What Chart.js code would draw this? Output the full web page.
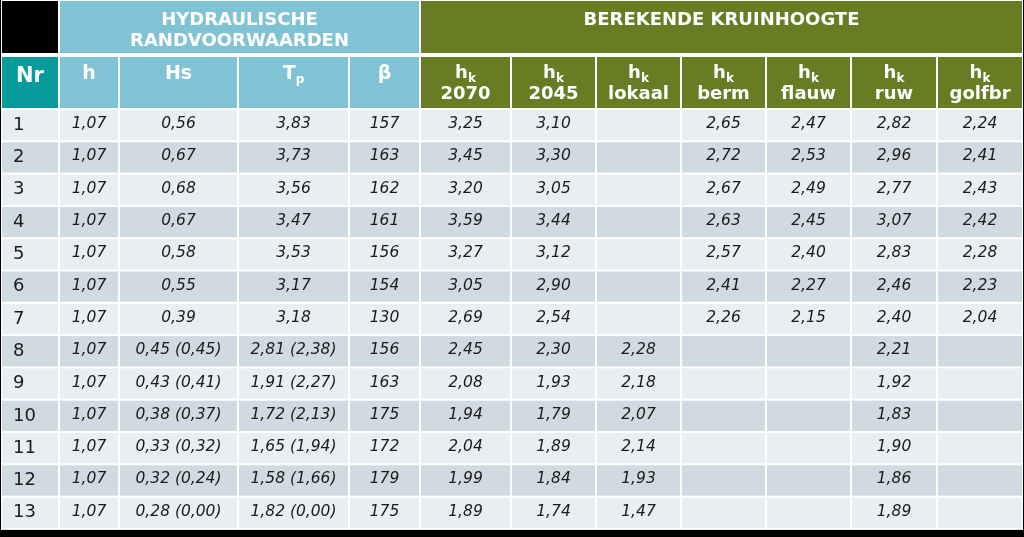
<!DOCTYPE html>
<html>
<head>
<meta charset="utf-8">
<script src="https://cdn.jsdelivr.net/npm/chart.js@4.4.0/dist/chart.umd.min.js"></script>
<style>
    html, body { margin: 0; padding: 0; background: #000; }
    #wrap { width: 1024px; height: 537px; position: relative; }
</style>
</head>
<body>
<div id="wrap"><canvas id="tbl"></canvas></div>
<script>
// ---- data ----
const rowNr = ['1', '2', '3', '4', '5', '6', '7', '8', '9', '10', '11', '12', '13'];
const hVals = [1.07, 1.07, 1.07, 1.07, 1.07, 1.07, 1.07, 1.07, 1.07, 1.07, 1.07, 1.07, 1.07];
const hsVals = [0.56, 0.67, 0.68, 0.67, 0.58, 0.55, 0.39, 0.45, 0.43, 0.38, 0.33, 0.32, 0.28];
const hsAlt = [null, null, null, null, null, null, null, 0.45, 0.41, 0.37, 0.32, 0.24, 0.00];
const tpVals = [3.83, 3.73, 3.56, 3.47, 3.53, 3.17, 3.18, 2.81, 1.91, 1.72, 1.65, 1.58, 1.82];
const tpAlt = [null, null, null, null, null, null, null, 2.38, 2.27, 2.13, 1.94, 1.66, 0.00];
const betaVals = [157, 163, 162, 161, 156, 154, 130, 156, 163, 175, 172, 179, 175];
const hk2070 = [3.25, 3.45, 3.20, 3.59, 3.27, 3.05, 2.69, 2.45, 2.08, 1.94, 2.04, 1.99, 1.89];
const hk2045 = [3.10, 3.30, 3.05, 3.44, 3.12, 2.90, 2.54, 2.30, 1.93, 1.79, 1.89, 1.84, 1.74];
const hkLokaal = [null, null, null, null, null, null, null, 2.28, 2.18, 2.07, 2.14, 1.93, 1.47];
const hkBerm = [2.65, 2.72, 2.67, 2.63, 2.57, 2.41, 2.26, null, null, null, null, null, null];
const hkFlauw = [2.47, 2.53, 2.49, 2.45, 2.40, 2.27, 2.15, null, null, null, null, null, null];
const hkRuw = [2.82, 2.96, 2.77, 3.07, 2.83, 2.46, 2.40, 2.21, 1.92, 1.83, 1.90, 1.86, 1.89];
const hkGolfbr = [2.24, 2.41, 2.43, 2.42, 2.28, 2.23, 2.04, null, null, null, null, null, null];

const groupTitles = [['HYDRAULISCHE', 'RANDVOORWAARDEN'], ['BEREKENDE KRUINHOOGTE']];
const hydroHeads = [['h', ''], ['Hs', ''], ['T', 'p'], ['β', '']];
const kruinHeads = ['2070', '2045', 'lokaal', 'berm', 'flauw', 'ruw', 'golfbr'];

// ---- layout (scale units) ----
const colWidths = [58, 60, 119, 111, 71, 91, 85, 85, 85, 85, 86, 86];
const headRows = [55, 54];
const dataRowH = 32.3;

const FONT = "'DejaVu Sans', Verdana, sans-serif";
const C_BLUE = '#80c3d4';
const C_TEAL = '#079b9c';
const C_GREEN = '#687c24';
const C_ROW = ['#e8eef1', '#d0dbe1'];
const C_TEXT = '#1b1b1b';

const fmt = v => (v === null || v === undefined) ? '' : v.toFixed(2).replace('.', ',');
const withAlt = (v, a) => a === null ? fmt(v) : `${fmt(v)} (${fmt(a)})`;

const dataCols = [
    i => withAlt(hVals[i], null),
    i => withAlt(hsVals[i], hsAlt[i]),
    i => withAlt(tpVals[i], tpAlt[i]),
    i => String(betaVals[i]),
    i => fmt(hk2070[i]),
    i => fmt(hk2045[i]),
    i => fmt(hkLokaal[i]),
    i => fmt(hkBerm[i]),
    i => fmt(hkFlauw[i]),
    i => fmt(hkRuw[i]),
    i => fmt(hkGolfbr[i]),
];

// cumulative edges
const colEdges = [0];
colWidths.forEach(w => colEdges.push(colEdges[colEdges.length - 1] + w));
const rowEdges = [0, headRows[0], headRows[0] + headRows[1]];
rowNr.forEach(() => rowEdges.push(rowEdges[rowEdges.length - 1] + dataRowH));

// one invisible point per data cell, placed on the scales
const cellPoints = [];
rowNr.forEach((r, i) => {
    colWidths.forEach((w, c) => {
        cellPoints.push({ x: (colEdges[c] + colEdges[c + 1]) / 2, y: (rowEdges[i + 2] + rowEdges[i + 3]) / 2 });
    });
});

// text with a subscript, centered on cx
function drawSub(ctx, main, sub, cx, base, size, subSize) {
    ctx.font = `bold ${size}px ${FONT}`;
    const w1 = ctx.measureText(main).width;
    ctx.font = `bold ${subSize}px ${FONT}`;
    const w2 = sub ? ctx.measureText(sub).width : 0;
    const left = cx - (w1 + w2) / 2;
    ctx.textAlign = 'left';
    ctx.font = `bold ${size}px ${FONT}`;
    ctx.fillText(main, left, base);
    if (sub) {
        ctx.font = `bold ${subSize}px ${FONT}`;
        ctx.fillText(sub, left + w1, base + 4);
    }
}

const tablePlugin = {
    id: 'tableCells',
    beforeDatasetsDraw(chart) {
        const { ctx, scales: { x, y } } = chart;
        const px = v => x.getPixelForValue(v);
        const py = v => y.getPixelForValue(v);
        const last = colEdges.length - 1;

        ctx.save();
        // white grid under cells
        ctx.fillStyle = '#fff';
        ctx.fillRect(px(0), py(0), px(colEdges[last]) - px(0), py(rowEdges[rowEdges.length - 1]) + 1 - py(0));

        const cell = (c0, c1, r, color) => {
            const top = py(rowEdges[r]) + (r === 1 ? 2 : 1);
            const bot = py(rowEdges[r + 1]) - (r === 0 ? 2 : 1);
            ctx.fillStyle = color;
            ctx.fillRect(px(colEdges[c0]) + 1, top, px(colEdges[c1]) - px(colEdges[c0]) - 2, bot - top);
            return { x0: px(colEdges[c0]), x1: px(colEdges[c1]), top, bot };
        };

        ctx.textBaseline = 'alphabetic';

        // header row 1
        cell(0, 1, 0, '#000');
        const hy = cell(1, 5, 0, C_BLUE);
        const gr = cell(5, last, 0, C_GREEN);
        ctx.fillStyle = '#fff';
        ctx.textAlign = 'center';
        ctx.font = `bold 18px ${FONT}`;
        groupTitles[0].forEach((t, k) => ctx.fillText(t, (hy.x0 + hy.x1) / 2, hy.top + 24 + k * 21));
        ctx.fillText(groupTitles[1][0], (gr.x0 + gr.x1) / 2, gr.top + 24);

        // header row 2
        const nr = cell(0, 1, 1, C_TEAL);
        ctx.fillStyle = '#fff';
        ctx.textAlign = 'center';
        ctx.font = `bold 21px ${FONT}`;
        ctx.fillText('Nr', (nr.x0 + nr.x1) / 2, nr.top + 25);
        hydroHeads.forEach((h, k) => {
            const b = cell(1 + k, 2 + k, 1, C_BLUE);
            ctx.fillStyle = '#fff';
            drawSub(ctx, h[0], h[1], (b.x0 + b.x1) / 2, b.top + 22, 19, 12);
        });
        kruinHeads.forEach((t, k) => {
            const b = cell(5 + k, 6 + k, 1, C_GREEN);
            ctx.fillStyle = '#fff';
            drawSub(ctx, 'h', 'k', (b.x0 + b.x1) / 2, b.top + 21, 18, 12);
            ctx.textAlign = 'center';
            ctx.font = `bold 18px ${FONT}`;
            ctx.fillText(t, (b.x0 + b.x1) / 2, b.top + 42);
        });

        // data rows
        rowNr.forEach((label, i) => {
            const r = i + 2;
            const color = C_ROW[i % 2];
            const n = cell(0, 1, r, color);
            const mid = (n.top + n.bot) / 2;
            ctx.fillStyle = C_TEXT;
            ctx.textBaseline = 'middle';
            ctx.textAlign = 'left';
            ctx.font = `18px ${FONT}`;
            ctx.fillText(label, n.x0 + 12, mid);
            dataCols.forEach((fn, c) => {
                const b = cell(c + 1, c + 2, r, color);
                ctx.fillStyle = C_TEXT;
                ctx.textAlign = 'center';
                ctx.font = `oblique 15.5px ${FONT}`;
                ctx.fillText(fn(i), (b.x0 + b.x1) / 2, mid - 1);
            });
            ctx.textBaseline = 'alphabetic';
        });
        ctx.restore();
    }
};

Chart.defaults.font.family = FONT;

new Chart(document.getElementById('tbl'), {
    type: 'scatter',
    data: {
        datasets: [{ data: cellPoints, pointRadius: 0, pointHoverRadius: 0 }]
    },
    options: {
        responsive: true,
        maintainAspectRatio: false,
        animation: false,
        layout: { padding: 0 },
        plugins: { legend: { display: false }, tooltip: { enabled: false } },
        events: [],
        scales: {
            x: { type: 'linear', min: -1, max: 1023, display: false },
            y: { type: 'linear', min: 0, max: 537, reverse: true, display: false }
        }
    },
    plugins: [tablePlugin]
});
</script>
</body>
</html>
